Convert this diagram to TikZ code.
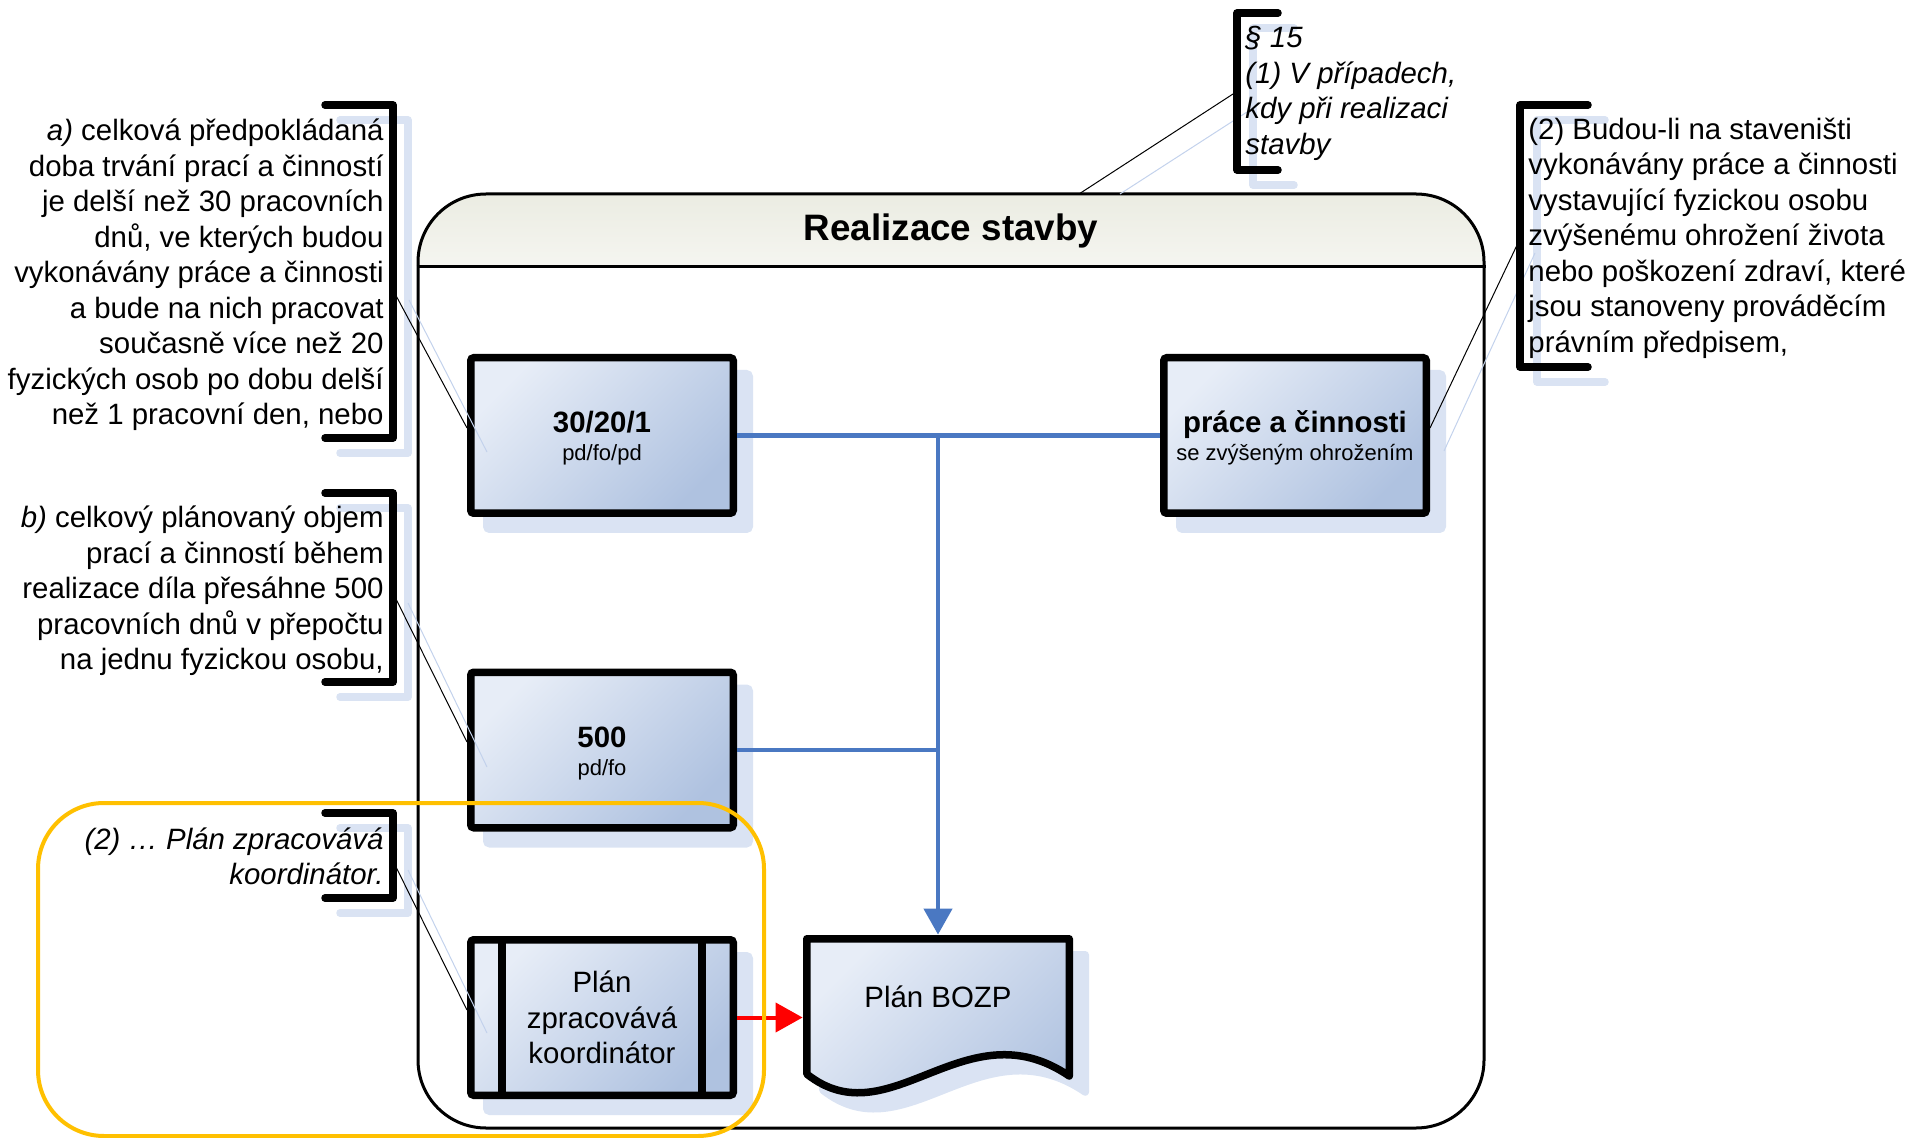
\documentclass[tikz,border=0pt]{standalone}
\usepackage{fontspec}
\setmainfont{Liberation Sans}
\usetikzlibrary{arrows.meta,shadows}
\definecolor{boxlight}{HTML}{E7EDF7}
\definecolor{boxdark}{HTML}{AFC2E0}
\definecolor{shadowblue}{HTML}{DAE3F3}
\definecolor{shadowline}{HTML}{C3D2EC}
\definecolor{linkblue}{HTML}{4A78C2}
\definecolor{hdrtop}{HTML}{EBECE2}
\definecolor{orangeframe}{HTML}{FFC000}
\newcommand\bodyfont{\fontsize{14.7}{17.75}\selectfont}
\newcommand\subfont{\fontsize{11}{14}\selectfont}
\newcommand\topstrut{\rule{0pt}{13.6pt}}
\begin{document}
\begin{tikzpicture}[x=0.5pt,y=-0.5pt,
  flowbox/.style={draw=black, line width=3.75pt, rounded corners=1.5pt,
    minimum width=131.25pt, minimum height=77.75pt, inner sep=0pt, align=center,
    font=\fontsize{14.7}{14}\selectfont,
    drop shadow={shadow xshift=8pt, shadow yshift=-8pt, opacity=1, fill=shadowblue, draw=shadowblue, line width=3.75pt},
    top color=boxlight, bottom color=boxdark, shading angle=45},
  txt/.style={font=\bodyfont, inner sep=0pt},
  link/.style={draw=linkblue, line width=2.25pt},
  redlink/.style={draw=red, line width=2pt},
  bracketline/.style={line width=3.75pt, line cap=round, line join=round},
  bracketshadow/.style={bracketline, draw=shadowblue},
  callout/.style={draw=black, line width=0.5pt},
  calloutshadow/.style={draw=shadowline, line width=0.5pt}]
\useasboundingbox (0,0) rectangle (1911,1138);

% bracket shadows
\draw[bracketshadow, shift={(15,15)}] (325,105) -- (393,105) -- (393,438) -- (325,438);
\draw[bracketshadow, shift={(15,15)}] (325,493) -- (393,493) -- (393,682) -- (325,682);
\draw[bracketshadow, shift={(15,15)}] (325,813) -- (393,813) -- (393,898) -- (325,898);
\draw[bracketshadow, shift={(16,15)}] (1278,13) -- (1237,13) -- (1237,170) -- (1278,170);
\draw[bracketshadow, shift={(17,15)}] (1588,105) -- (1520,105) -- (1520,367) -- (1588,367);

% container header
\begin{scope}
  \clip (418,194) rectangle (1484,267);
  \fill[top color=hdrtop, bottom color=white, rounded corners=34pt] (418,194) rectangle (1484,340);
\end{scope}
\node[draw=black, line width=1.5pt, rounded corners=34pt, minimum width=533pt, minimum height=467pt, inner sep=0pt] (stavba) at (951,661) {};
\draw[line width=1.5pt] (stavba.west |- 0,267) -- (stavba.east |- 0,267);
\node[font=\fontsize{18.4}{22}\selectfont\bfseries, inner sep=0pt] (title) at (951,231) {Realizace stavby};

% boxes
\node[flowbox] (b1) at (602,435.5) {\topstrut\textbf{30/20/1}\\{\subfont pd/fo/pd}};
\node[flowbox] (b2) at (602,750) {\topstrut\textbf{500}\\{\subfont pd/fo}};
\node[flowbox] (b3) at (1295,435.5) {\topstrut\textbf{práce a činnosti}\\{\subfont se zvýšeným ohrožením}};
\node[flowbox, font=\bodyfont] (b4) at (602,1017.5) {Plán\\zpracovává\\koordinátor};
\draw[line width=3.75pt] ([xshift=-50pt]b4.north) -- ([xshift=-50pt]b4.south);
\draw[line width=3.75pt] ([xshift=50pt]b4.north) -- ([xshift=50pt]b4.south);

% document shape
\path[fill=shadowblue, draw=shadowblue, line width=3.75pt, line join=round, shift={(16,16)}]
  (806.75,938.75) -- (1069.25,938.75) -- (1069.25,1076) .. controls (965,1005) and (890,1140) .. (806.75,1074) -- cycle;
\path[draw=black, line width=3.75pt, line join=round, top color=boxlight, bottom color=boxdark, shading angle=45]
  (806.75,938.75) -- (1069.25,938.75) -- (1069.25,1076) .. controls (965,1005) and (890,1140) .. (806.75,1074) -- cycle;
\node[inner sep=0pt, minimum width=135pt, minimum height=81pt, font=\bodyfont, text height=10.7pt, text depth=19pt] (bozp) at (938,1016) {Plán BOZP};

% connectors
\draw[link] (b1.east) -- (b3.west);
\draw[link, -{Triangle[length=13pt,width=14pt]}] (b1.east -| bozp.north) -- (bozp.north);
\draw[link] (b2.east) -- (b2.east -| bozp.north);
\draw[redlink, -{Triangle[length=13.5pt,width=14.5pt]}] (b4.east) -- (b4.east -| bozp.west);

% callout lines
\coordinate (pa) at (393,290);   \coordinate (pas) at (409,300);
\coordinate (pb) at (395,597);   \coordinate (pbs) at (408,603);
\coordinate (pc) at (395,865);   \coordinate (pcs) at (408,870);
\coordinate (pt) at (1233,94);   \coordinate (pts) at (1247,112);
\coordinate (pr) at (1518,243);  \coordinate (prs) at (1535,253);
\coordinate (ea) at (487,452); \coordinate (eb) at (487,767); \coordinate (ec) at (487,1033);
\coordinate (et) at (1079,194); \coordinate (ets) at (1120,194); \coordinate (er) at (1444,451);
\draw[calloutshadow] (pas) -- (ea);
\draw[calloutshadow] (pbs) -- (eb);
\draw[calloutshadow] (pcs) -- (ec);
\draw[calloutshadow] (pts) -- (ets);
\draw[calloutshadow] (prs) -- (er);
\draw[callout] (pa) -- ([yshift=3.75pt]b1.west);
\draw[callout] (pb) -- ([yshift=4pt]b2.west);
\draw[callout] (pc) -- ([yshift=3.75pt]b4.west);
\draw[callout] (pt) -- (et);
\draw[callout] (pr) -- ([yshift=3.75pt]b3.east);

% brackets
\draw[bracketline] (325,105) -- (393,105) -- (393,438) -- (325,438);
\draw[bracketline] (325,493) -- (393,493) -- (393,682) -- (325,682);
\draw[bracketline] (325,813) -- (393,813) -- (393,898) -- (325,898);
\draw[bracketline] (1278,13) -- (1237,13) -- (1237,170) -- (1278,170);
\draw[bracketline] (1588,105) -- (1520,105) -- (1520,367) -- (1588,367);

% texts
\node[txt, anchor=north east, align=right] (ta) at (384,118.5)
  {\textit{a)} celková předpokládaná\\doba trvání prací a činností\\je delší než 30 pracovních\\dnů, ve kterých budou\\vykonávány práce a činnosti\\a bude na nich pracovat\\současně více než 20\\fyzických osob po dobu delší\\než 1 pracovní den, nebo};
\node[txt, anchor=north east, align=right] (tb) at (384,505.5)
  {\textit{b)} celkový plánovaný objem\\prací a činností během\\realizace díla přesáhne 500\\pracovních dnů v přepočtu\\na jednu fyzickou osobu,};
\node[txt, anchor=north east, align=right, font=\bodyfont\itshape] (tc) at (384,827)
  {(2) … Plán zpracovává\\koordinátor.};
\node[txt, anchor=north west, align=left, font=\bodyfont\itshape] (ttop) at (1245,26)
  {§ 15\\(1) V případech,\\kdy při realizaci\\stavby};
\node[txt, anchor=north west, align=left] (tr) at (1528,117.5)
  {(2) Budou-li na staveništi\\vykonávány práce a činnosti\\vystavující fyzickou osobu\\zvýšenému ohrožení života\\nebo poškození zdraví, které\\jsou stanoveny prováděcím\\právním předpisem,};

% orange group frame
\node[draw=orangeframe, line width=2pt, rounded corners=33pt, minimum width=363pt, minimum height=166.5pt, inner sep=0pt] (group) at (401,969.5) {};
\end{tikzpicture}
\end{document}
